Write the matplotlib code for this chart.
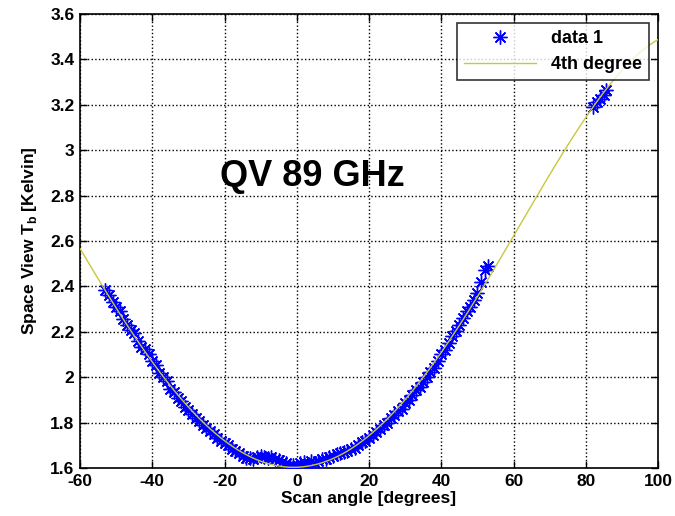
import matplotlib
matplotlib.use('Agg')
import matplotlib.pyplot as plt
import numpy as np

plt.rcParams['font.family'] = ['Liberation Sans', 'DejaVu Sans']
plt.rcParams['font.weight'] = 'bold'
plt.rcParams['axes.unicode_minus'] = False
plt.rcParams['mathtext.fontset'] = 'custom'
plt.rcParams['mathtext.rm'] = 'Liberation Sans:bold'
plt.rcParams['mathtext.bf'] = 'Liberation Sans:bold'

scan_angle = [-53, -52, -51, -50, -49, -48, -47, -46, -45, -44, -43, -42, -41, -40,
              -39, -38, -37, -36, -35, -34, -33, -32, -31, -30, -29, -28, -27, -26,
              -25, -24, -23, -22, -21, -20, -19, -18, -17, -16, -15, -14, -13, -12,
              -11, -10, -9, -8, -7, -6, -5, -4, -3, -2, -1, 0, 1, 2, 3, 4, 5, 6, 7,
              8, 9, 10, 11, 12, 13, 14, 15, 16, 17, 18, 19, 20, 21, 22, 23, 24, 25,
              26, 27, 28, 29, 30, 31, 32, 33, 34, 35, 36, 37, 38, 39, 40, 41, 42, 43,
              44, 45, 46, 47, 48, 49, 50, 51, 52, 53,
              82, 83, 84, 85, 85.5]
tb = [2.385, 2.36, 2.33, 2.31, 2.29, 2.255, 2.23, 2.21, 2.195, 2.16, 2.135, 2.125, 2.10, 2.07,
      2.055, 2.02, 2.00, 1.985, 1.95, 1.935, 1.91, 1.895, 1.87, 1.855, 1.84, 1.82, 1.805, 1.79,
      1.775, 1.765, 1.75, 1.73, 1.72, 1.71, 1.70, 1.685, 1.675, 1.665, 1.655, 1.645, 1.645, 1.64,
      1.65, 1.655, 1.65, 1.645, 1.65, 1.64, 1.635, 1.625, 1.62, 1.61, 1.615, 1.61, 1.62, 1.625,
      1.615, 1.63, 1.62, 1.63, 1.64, 1.64, 1.65, 1.655, 1.66, 1.665, 1.67, 1.675, 1.685, 1.69,
      1.70, 1.715, 1.72, 1.73, 1.745, 1.76, 1.77, 1.79, 1.80, 1.82, 1.835, 1.85, 1.86, 1.885,
      1.90, 1.92, 1.945, 1.955, 1.98, 2.00, 2.025, 2.04, 2.07, 2.10, 2.12, 2.15, 2.18, 2.205,
      2.23, 2.26, 2.29, 2.31, 2.34, 2.37, 2.42, 2.47, 2.49,
      3.19, 3.21, 3.225, 3.245, 3.265]

fig = plt.figure(figsize=(6.75, 5.16), dpi=100)
ax = fig.add_axes([0.1185, 0.093, 0.8565, 0.88])

# matlab-style asterisk marker
ax.plot(scan_angle, tb, linestyle='none', marker=(8, 2, 0), color='blue',
        markersize=10, markeredgewidth=1.0, label='data 1', zorder=3)

# 4th degree polynomial fit of the data
coef = np.polyfit(scan_angle, tb, 4)
xfit = np.linspace(-60, 100, 400)
ax.plot(xfit, np.polyval(coef, xfit), color='#c8c83c', linewidth=1,
        label='4th degree', zorder=4)

ax.set_xlim(-60, 100)
ax.set_ylim(1.6, 3.6)
ax.set_xticks(np.arange(-60, 101, 20))
ax.set_yticks(np.arange(1.6, 3.61, 0.2))
ax.set_yticklabels(['1.6', '1.8', '2', '2.2', '2.4', '2.6', '2.8', '3', '3.2', '3.4', '3.6'])
ax.tick_params(direction='in', top=True, right=True, length=5, width=1,
               labelsize=12.5, pad=4)
for s in ax.spines.values():
    s.set_linewidth(1.2)
ax.grid(True, linestyle=':', color='black', linewidth=1)

ax.set_xlabel('Scan angle [degrees]', fontsize=12.5, fontweight='bold', labelpad=2)
ax.set_ylabel('Space View T$_{\\mathbf{b}}$ [Kelvin]', fontsize=12.5, fontweight='bold', labelpad=8)

ax.text(4.2, 2.886, 'QV 89 GHz', fontsize=26, fontweight='bold', ha='center', va='center')

leg = ax.legend(loc='upper right', fontsize=13, frameon=True, fancybox=False,
                edgecolor='black', borderaxespad=0.5, handlelength=4, borderpad=0.4)
leg.get_frame().set_linewidth(1.2)

fig.savefig('out.png', dpi=100, facecolor='white')
